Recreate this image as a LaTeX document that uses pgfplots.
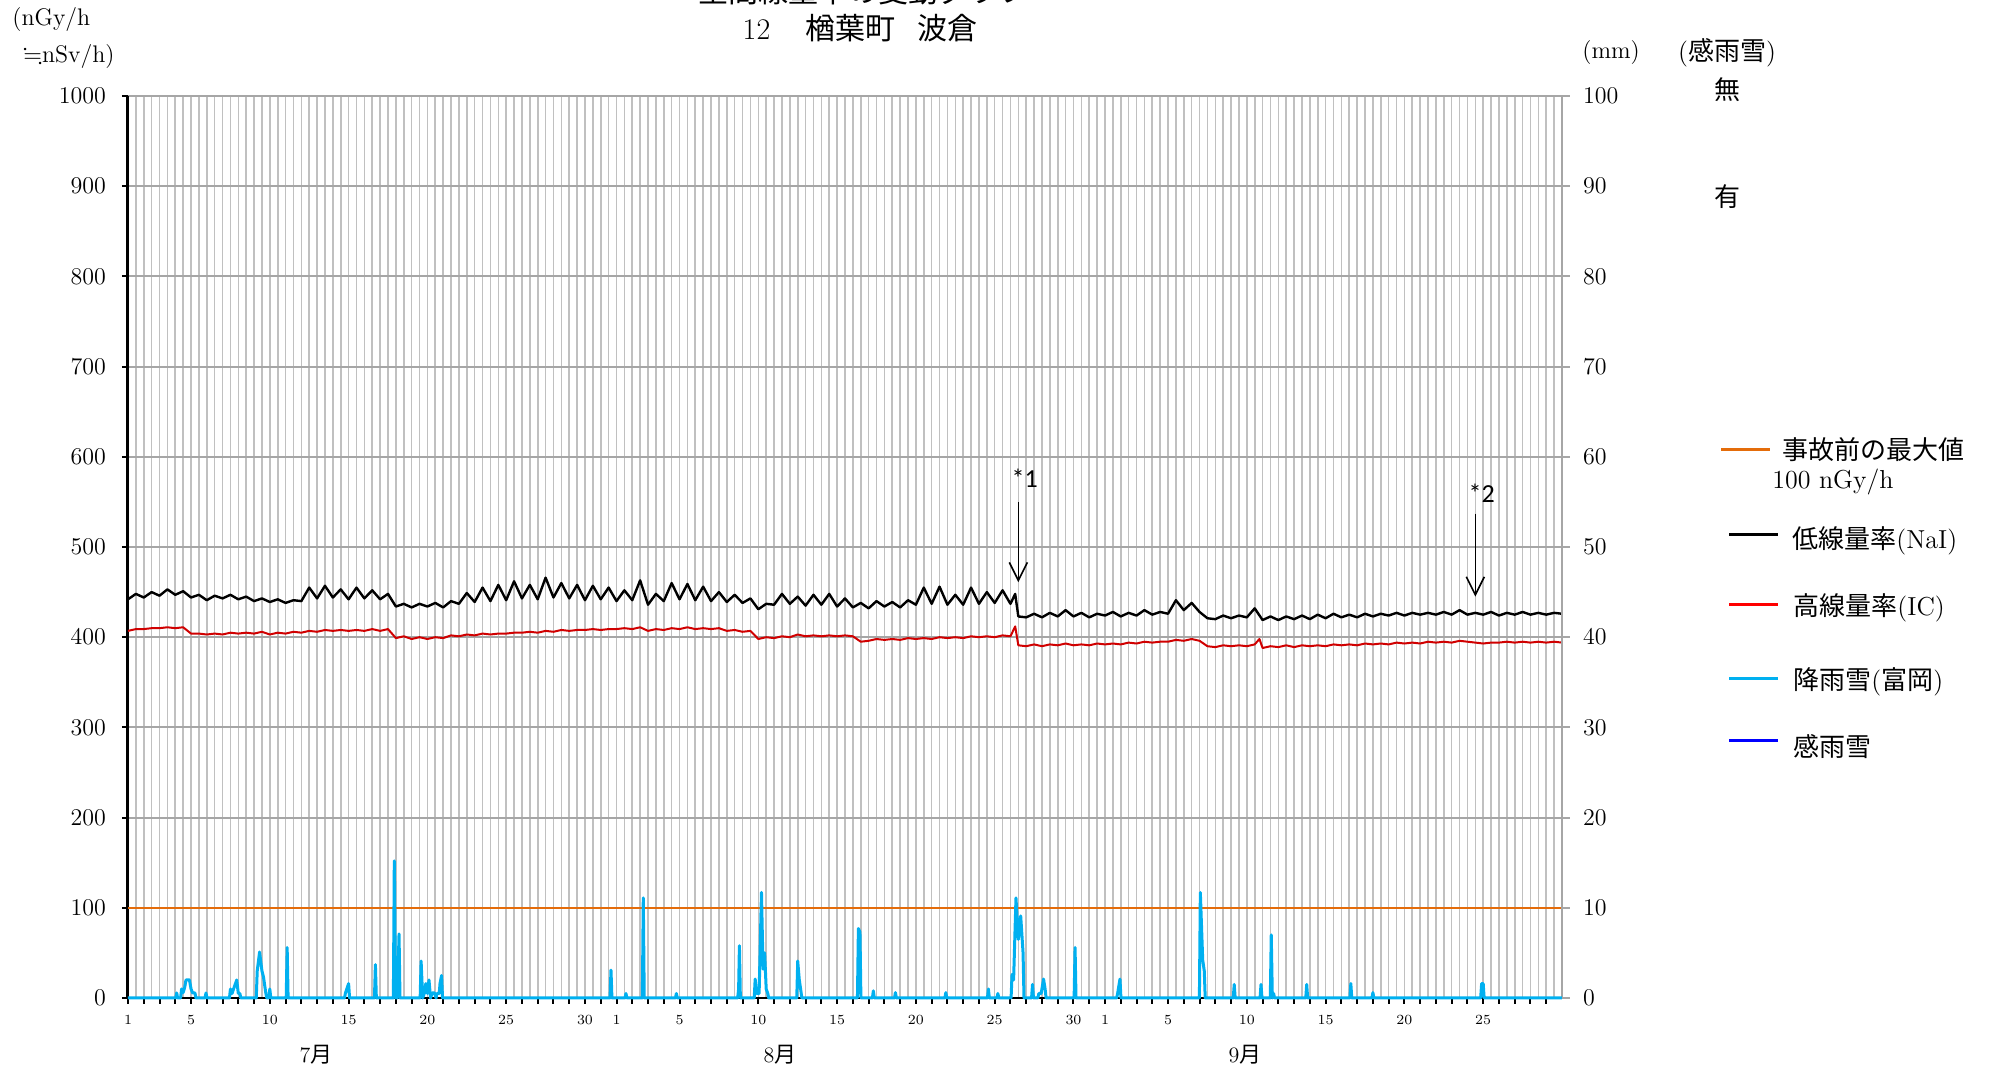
\documentclass[border=0pt]{standalone}
\usepackage{fontspec}
\usepackage{amssymb}
\usepackage{pgfplots}
\pgfplotsset{compat=1.18}
\usetikzlibrary{arrows.meta}
\newfontfamily\jp{Noto Sans CJK JP}
\newfontfamily\carlito{Carlito}
\definecolor{ic}{HTML}{D00000}
\definecolor{icleg}{HTML}{FF0000}
\definecolor{rain}{HTML}{00B0F0}
\definecolor{prev}{HTML}{E46C0A}
\definecolor{kanu}{HTML}{0000FF}
\definecolor{hgrid}{HTML}{A6A6A6}
\definecolor{vgrid}{HTML}{C0C0C0}
\newcommand{\fs}[1]{\fontsize{#1}{#1}\selectfont}

\begin{document}
\begin{tikzpicture}
\path[use as bounding box] (-64pt,-36.5pt) rectangle (932.5pt,499pt);

% left axis: dose rate
\begin{axis}[
  at={(0pt,0pt)}, anchor=south west, scale only axis,
  width=717pt, height=451pt,
  xmin=0, xmax=91, ymin=0, ymax=1000,
  axis x line*=bottom, axis y line*=left,
  x axis line style={draw=black, line width=1pt},
  y axis line style={draw=black, line width=1.5pt},
  tick align=outside, major tick length=3pt,
  tick style={black, line width=1pt},
  ytick={0,100,...,1000},
  /pgf/number format/1000 sep={},
  ymajorgrids, major grid style={draw=hgrid, line width=1pt},
  xtick={0,4,9,14,19,24,29,31,35,40,45,50,55,60,62,66,71,76,81,86},
  xticklabels={1,5,10,15,20,25,30,1,5,10,15,20,25,30,1,5,10,15,20,25},
  extra x ticks={1,2,...,90},
  extra x tick labels={},
  extra x tick style={grid=none},
  minor xtick={0.5,1,...,91},
  xminorgrids, minor grid style={draw=vgrid, line width=0.8pt},
  minor tick length=0pt,
  yticklabel style={font=\fs{12}, xshift=-4.5pt},
  xticklabel style={font=\fs{7}, yshift=-2pt},
  clip=false,
]
\addplot[prev, line width=1pt] coordinates {(0,100)(91,100)};

\addplot[ic, line width=1pt, line join=round] coordinates {
(0,407)(0.5,409)(1,409)(1.5,410)(2,410)(2.5,411)(3,410)(3.5,411)(4,404)(4.5,404)(5,403)(5.5,404)(6,403)(6.5,405)(7,404)(7.5,405)(8,404)(8.5,406)(9,403)(9.5,405)(10,404)(10.5,406)(11,405)(11.5,407)(12,406)(12.5,408)(13,407)(13.5,408)(14,407)(14.5,408)(15,407)(15.5,409)(16,407)(16.5,409)(17,399)(17.5,401)(18,398)(18.5,400)(19,398)(19.5,400)(20,399)(20.5,402)(21,401)(21.5,403)(22,402)(22.5,404)(23,403)(23.5,404)(24,404)(24.5,405)(25,405)(25.5,406)(26,405)(26.5,407)(27,406)(27.5,408)(28,407)(28.5,408)(29,408)(29.5,409)(30,408)(30.5,409)
(31,409)(31.5,410)(32,409)(32.5,411)(33,407)(33.5,409)(34,408)(34.5,410)(35,409)(35.5,411)(36,409)(36.5,410)(37,409)(37.5,410)(38,407)(38.5,408)(39,406)(39.5,407)(40,398)(40.5,400)(41,399)(41.5,401)(42,400)(42.5,403)(43,401)(43.5,402)(44,401)(44.5,402)(45,401)(45.5,402)(46,401)(46.5,395)(47,396)(47.5,398)(48,397)(48.5,398)(49,397)(49.5,399)(50,398)(50.5,399)(51,398)(51.5,400)(52,399)(52.5,400)(53,399)(53.5,401)(54,400)(54.5,401)(55,400)(55.5,402)(56,401)(56.3,412)(56.5,391)(57,390)(57.5,392)(58,390)(58.5,392)(59,391)(59.5,393)(60,391)(60.5,392)(61,391)(61.5,393)
(62,392)(62.5,393)(63,392)(63.5,394)(64,393)(64.5,395)(65,394)(65.5,395)(66,395)(66.5,397)(67,396)(67.5,398)(68,396)(68.5,390)(69,389)(69.5,391)(70,390)(70.5,391)(71,390)(71.5,392)(71.8,398)(72,388)(72.5,390)(73,389)(73.5,391)(74,389)(74.5,391)(75,390)(75.5,391)(76,390)(76.5,392)(77,391)(77.5,392)(78,391)(78.5,393)(79,392)(79.5,393)(80,392)(80.5,394)(81,393)(81.5,394)(82,393)(82.5,395)(83,394)(83.5,395)(84,394)(84.5,396)(85,395)(85.5,394)(86,393)(86.5,394)(87,394)(87.5,395)(88,394)(88.5,395)(89,394)(89.5,395)(90,394)(90.5,395)(91,394)
};

\addplot[black, line width=1.2pt, line join=round] coordinates {
(0,442)(0.5,448)(1,444)(1.5,450)(2,446)(2.5,453)(3,447)(3.5,451)(4,444)(4.5,447)(5,441)(5.5,446)(6,443)(6.5,447)(7,442)(7.5,445)(8,440)(8.5,443)(9,439)(9.5,442)(10,438)(10.5,441)(11,440)(11.5,455)(12,443)(12.5,457)(13,444)(13.5,453)(14,442)(14.5,455)(15,443)(15.5,452)(16,442)(16.5,448)(17,434)(17.5,437)(18,433)(18.5,437)(19,434)(19.5,438)(20,433)(20.5,440)(21,437)(21.5,449)(22,439)(22.5,455)(23,440)(23.5,458)(24,441)(24.5,462)(25,443)(25.5,458)(26,442)(26.5,466)(27,444)(27.5,460)(28,443)(28.5,458)(29,441)(29.5,457)(30,442)(30.5,455)
(31,440)(31.5,452)(32,441)(32.5,463)(33,436)(33.5,448)(34,440)(34.5,460)(35,442)(35.5,459)(36,441)(36.5,456)(37,440)(37.5,450)(38,439)(38.5,447)(39,438)(39.5,443)(40,431)(40.5,437)(41,436)(41.5,448)(42,437)(42.5,445)(43,435)(43.5,447)(44,436)(44.5,448)(45,434)(45.5,443)(46,433)(46.5,438)(47,432)(47.5,440)(48,434)(48.5,439)(49,433)(49.5,441)(50,436)(50.5,455)(51,437)(51.5,456)(52,436)(52.5,447)(53,436)(53.5,455)(54,437)(54.5,450)(55,438)(55.5,452)(56,437)(56.3,448)(56.5,423)(57,422)(57.5,426)(58,422)(58.5,427)(59,423)(59.5,430)(60,423)(60.5,427)(61,422)(61.5,426)
(62,424)(62.5,428)(63,423)(63.5,427)(64,424)(64.5,430)(65,425)(65.5,428)(66,426)(66.5,441)(67,430)(67.5,438)(68,428)(68.5,421)(69,420)(69.5,424)(70,421)(70.5,424)(71,422)(71.5,432)(72,419)(72.5,423)(73,419)(73.5,423)(74,420)(74.5,424)(75,420)(75.5,425)(76,421)(76.5,426)(77,422)(77.5,425)(78,422)(78.5,426)(79,423)(79.5,426)(80,424)(80.5,427)(81,424)(81.5,427)(82,425)(82.5,427)(83,425)(83.5,428)(84,425)(84.5,430)(85,425)(85.5,427)(86,425)(86.5,428)(87,424)(87.5,427)(88,425)(88.5,428)(89,425)(89.5,427)(90,425)(90.5,427)(91,426)
};

\draw[line width=0.8pt, -{Straight Barb[length=9pt,width=9pt]}] (axis cs:56.5,550) -- (axis cs:56.5,461);
\node[font=\carlito\fs{13}] at (axis cs:56.9,576) {*1};
\draw[line width=0.8pt, -{Straight Barb[length=9pt,width=9pt]}] (axis cs:85.5,537) -- (axis cs:85.5,445);
\node[font=\carlito\fs{13}] at (axis cs:85.9,560) {*2};
\end{axis}

% right axis: precipitation (mm)
\begin{axis}[
  at={(0pt,0pt)}, anchor=south west, scale only axis,
  width=717pt, height=451pt,
  xmin=0, xmax=91, ymin=0, ymax=100,
  axis x line=none, axis y line*=right,
  y axis line style={draw=hgrid, line width=1pt},
  ytick={0,10,...,100},
  tick align=outside, major tick length=4pt,
  tick style={draw=hgrid, line width=1pt},
  yticklabel style={font=\fs{12}, xshift=3pt},
  clip=false,
]
\addplot[rain, line width=1.5pt, line join=round] coordinates {
(0,0)
(3.03,0)(3.09,0.56)(3.15,0)
(3.34,0)(3.4,1.0)(3.5,0.6)(3.6,1.2)(3.68,2.0)(3.8,2.0)(3.9,2.0)(4.0,1.0)(4.1,0.56)(4.25,0.56)(4.31,0)
(4.89,0)(4.95,0.56)(5.01,0)
(6.44,0)(6.5,1.0)(6.6,0.5)(6.7,1.0)(6.9,2.0)(7.0,0.5)(7.1,0.5)(7.16,0)
(8.14,0)(8.2,3.0)(8.35,5.1)(8.5,3.0)(8.6,2.3)(8.75,0.5)(8.81,0)
(8.94,0)(9.0,1.0)(9.06,0)
(10.04,0)(10.1,5.6)(10.16,0)
(13.74,0)(13.8,0.56)(14.0,1.6)(14.06,0)
(15.64,0)(15.7,3.7)(15.76,0)
(16.84,0)(16.9,15.2)(16.98,0)(17.1,0)(17.2,7.1)(17.26,0)
(18.54,0)(18.6,4.1)(18.7,0)(18.8,0.5)(18.9,1.6)(19.0,0.5)(19.1,2.0)(19.2,0)(19.3,0.56)(19.45,0.56)(19.55,0)(19.6,0.5)(19.75,0.5)(19.8,1.6)(19.9,2.5)(19.96,0)
(30.59,0)(30.65,3.1)(30.71,0)
(31.54,0)(31.6,0.5)(31.66,0)
(32.64,0)(32.7,11.1)(32.76,0)
(34.74,0)(34.8,0.5)(34.86,0)
(38.69,0)(38.75,1.0)(38.8,5.8)(38.86,0)
(39.74,0)(39.8,2.1)(39.9,0.5)(40.05,0.5)(40.2,11.7)(40.3,3.2)(40.4,5.0)(40.5,1.0)(40.6,0.5)(40.66,0)
(42.44,0)(42.5,4.1)(42.6,2.0)(42.7,0.8)(42.76,0)
(46.29,0)(46.35,7.7)(46.45,7.3)(46.51,0)
(47.24,0)(47.3,0.8)(47.36,0)
(48.64,0)(48.7,0.6)(48.76,0)
(51.84,0)(51.9,0.6)(51.96,0)
(54.54,0)(54.6,1.0)(54.66,0)
(55.14,0)(55.2,0.5)(55.26,0)
(56.04,0)(56.1,2.6)(56.2,2.0)(56.35,11.1)(56.5,6.5)(56.65,9.1)(56.8,5.0)(56.86,0)
(57.34,0)(57.4,1.5)(57.46,0)
(57.74,0)(57.8,0.5)(57.95,0.5)(58.1,2.1)(58.2,1.0)(58.26,0)
(60.04,0)(60.1,5.6)(60.16,0)
(62.74,0)(62.8,0.5)(62.95,2.1)(63.01,0)
(67.99,0)(68.05,11.7)(68.2,4.2)(68.3,3.0)(68.36,0)
(70.14,0)(70.2,1.5)(70.26,0)
(71.84,0)(71.9,1.5)(71.96,0)
(72.49,0)(72.55,7.0)(72.62,0)(72.7,0.5)(72.76,0)
(74.74,0)(74.8,1.5)(74.86,0)
(77.54,0)(77.6,1.6)(77.66,0)
(78.94,0)(79.0,0.6)(79.06,0)
(85.84,0)(85.9,1.6)(86.0,1.6)(86.06,0)
(91,0)
};
\end{axis}

% titles and unit labels (first title line is cut by the top edge, as in the reference)
\node[font=\jp\fs{15}] at (367.5pt,503.5pt) {空間線量率の変動グラフ};
\node[font=\fs{15}] at (366pt,485pt) {12\hspace{17.5pt}{\jp 楢葉町}\hspace{11pt}{\jp 波倉}};
\node[anchor=west, font=\fs{12}, inner sep=0pt] at (-58pt,489pt) {(nGy/h};
\node[anchor=west, font=\fs{12}, inner sep=0pt] at (-52.5pt,470.5pt) {$\fallingdotseq$nSv/h)};
\node[anchor=west, font=\fs{12}, inner sep=0pt] at (727pt,472.5pt) {(mm)};
\node[font=\fs{13}, inner sep=0pt] at (799.5pt,472.5pt) {({\jp 感雨雪})};
\node[font=\jp\fs{13}, inner sep=0pt] at (799.5pt,454pt) {無};
\node[font=\jp\fs{13}, inner sep=0pt] at (799.5pt,400.5pt) {有};

% month labels
\node[font=\fs{11}] at (94pt,-28.5pt) {7{\jp 月}};
\node[font=\fs{11}] at (326pt,-28.5pt) {8{\jp 月}};
\node[font=\fs{11}] at (558.5pt,-28.5pt) {9{\jp 月}};

% legend
\draw[prev, line width=1.5pt] (796.5pt,274pt) -- (821pt,274pt);
\node[anchor=west, font=\fs{13}, inner sep=0pt] at (827pt,274pt) {\jp 事故前の最大値};
\node[anchor=west, font=\fs{13}, inner sep=0pt] at (822pt,258pt) {100 nGy/h};
\draw[black, line width=1.5pt] (800.5pt,231.5pt) -- (825pt,231.5pt);
\node[anchor=west, font=\fs{13}, inner sep=0pt] at (832pt,228.5pt) {{\jp 低線量率}(NaI)};
\draw[icleg, line width=1.5pt] (800.5pt,196.5pt) -- (825pt,196.5pt);
\node[anchor=west, font=\fs{13}, inner sep=0pt] at (832.5pt,195pt) {{\jp 高線量率}(IC)};
\draw[rain, line width=1.5pt] (800.5pt,159.5pt) -- (825pt,159.5pt);
\node[anchor=west, font=\fs{13}, inner sep=0pt] at (832.5pt,158pt) {{\jp 降雨雪}({\jp 富岡})};
\draw[kanu, line width=1.5pt] (800.5pt,128.5pt) -- (825pt,128.5pt);
\node[anchor=west, font=\fs{13}, inner sep=0pt] at (832.5pt,125.5pt) {\jp 感雨雪};
\end{tikzpicture}
\end{document}
